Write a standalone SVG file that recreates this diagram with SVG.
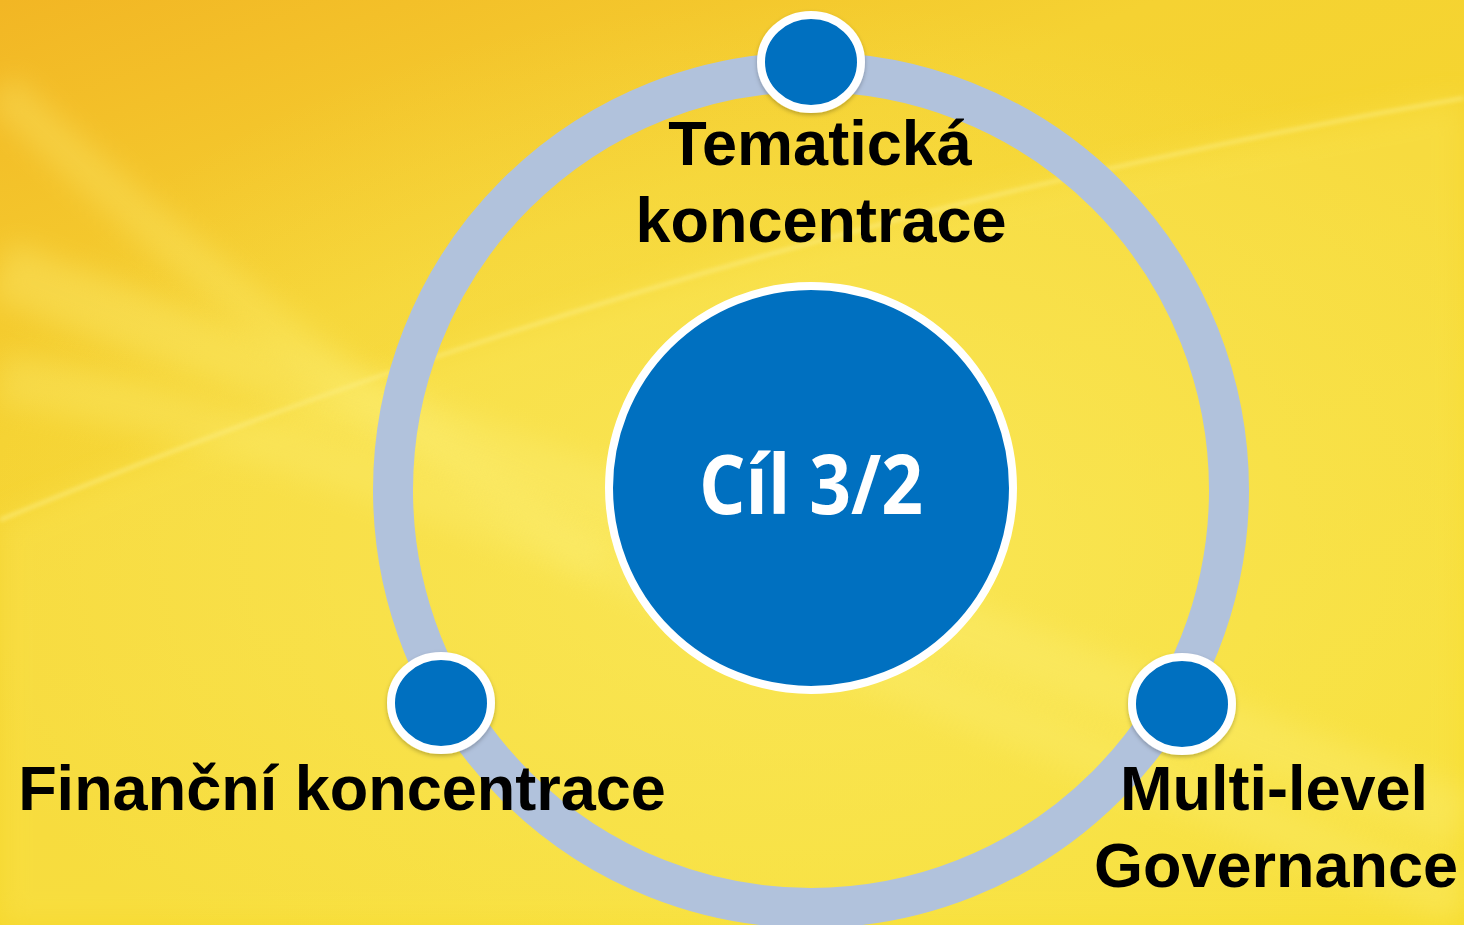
<svg xmlns="http://www.w3.org/2000/svg" width="1464" height="925" viewBox="0 0 1464 925">
  <defs>
    <linearGradient id="bg" x1="0" y1="0" x2="0.6" y2="1">
      <stop offset="0" stop-color="#F2B624"/>
      <stop offset="0.35" stop-color="#F5D232"/>
      <stop offset="1" stop-color="#F6DC2A"/>
    </linearGradient>
    <radialGradient id="glow" cx="0.55" cy="0.6" r="0.6">
      <stop offset="0" stop-color="#FAEA5E" stop-opacity="0.7"/>
      <stop offset="1" stop-color="#FAEA5E" stop-opacity="0"/>
    </radialGradient>
    <filter id="blur" x="-20%" y="-20%" width="140%" height="140%">
      <feGaussianBlur stdDeviation="14"/>
    </filter>
    <filter id="blur2" x="-20%" y="-20%" width="140%" height="140%">
      <feGaussianBlur stdDeviation="2"/>
    </filter>
    <filter id="shadow" x="-30%" y="-30%" width="160%" height="160%">
      <feDropShadow dx="0" dy="2" stdDeviation="2" flood-color="#000" flood-opacity="0.25"/>
    </filter>
  </defs>
  <style>
    .ring { fill: none; stroke: #B1C2DC; stroke-width: 40; }
    .dot { fill: #0070C0; stroke: #FFFFFF; stroke-width: 8; }
    .lbl { font-family: "Liberation Sans", Arial, sans-serif; font-weight: bold; font-size: 63px; fill: #000000; text-anchor: middle; }
    .center { font-family: "Open Sans", "Liberation Sans", sans-serif; font-weight: bold; font-size: 82px; fill: #FFFFFF; text-anchor: middle; }
  </style>

  <g id="background">
    <rect x="0" y="0" width="1464" height="925" fill="url(#bg)"/>
    <path d="M0,520 Q700,230 1464,98 L1464,925 L0,925 Z" fill="#FAE452" opacity="0.45" filter="url(#blur)"/>
    <rect x="0" y="0" width="1464" height="925" fill="url(#glow)"/>
    <path d="M0,270 L1464,820" stroke="#FCEF78" stroke-width="60" opacity="0.35" filter="url(#blur)" fill="none"/>
    <path d="M0,380 C300,420 700,600 1464,900" stroke="#FCEF78" stroke-width="50" opacity="0.3" filter="url(#blur)" fill="none"/>
    <path d="M0,90 C120,200 260,330 600,560" stroke="#FCEF78" stroke-width="40" opacity="0.3" filter="url(#blur)" fill="none"/>
    <path d="M0,520 Q700,230 1464,98" stroke="#FDF08A" stroke-width="3" opacity="0.7" filter="url(#blur2)" fill="none"/>
  </g>

  <g id="connectors">
    <circle class="ring" cx="811" cy="490" r="418"/>
  </g>

  <g id="node-center">
    <circle cx="811" cy="488" r="202" fill="#0070C0" stroke="#FFFFFF" stroke-width="8"/>
    <text class="center" x="811" y="514" textLength="224" lengthAdjust="spacingAndGlyphs">Cíl 3/2</text>
  </g>

  <g id="node-tematicka">
    <ellipse class="dot" cx="811" cy="62" rx="50" ry="47" filter="url(#shadow)"/>
    <text class="lbl" x="820" y="165">Tematická</text>
    <text class="lbl" x="821" y="242">koncentrace</text>
  </g>

  <g id="node-financni">
    <ellipse class="dot" cx="441" cy="703" rx="50" ry="47" filter="url(#shadow)"/>
    <text class="lbl" x="342" y="810" font-size="62">Finanční koncentrace</text>
  </g>

  <g id="node-multilevel">
    <ellipse class="dot" cx="1182" cy="704" rx="50" ry="47" filter="url(#shadow)"/>
    <text class="lbl" x="1274" y="810">Multi-level</text>
    <text class="lbl" x="1276" y="887">Governance</text>
  </g>
</svg>
